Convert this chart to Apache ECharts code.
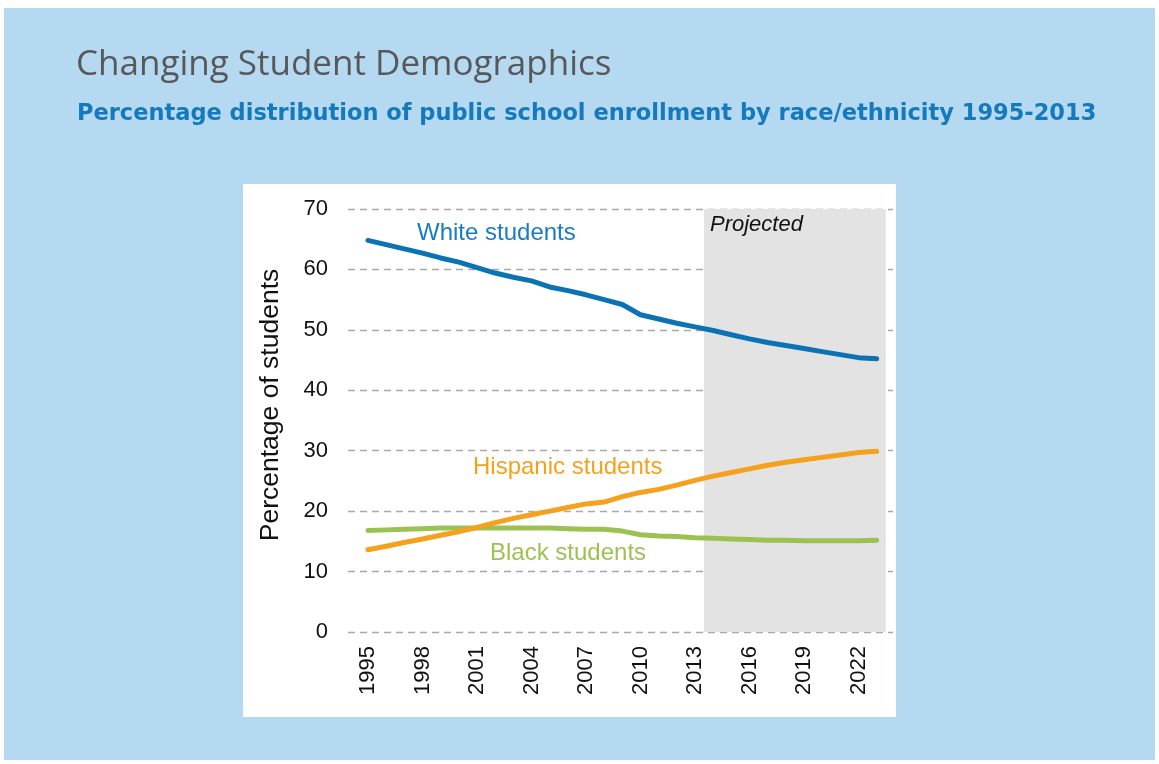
<!DOCTYPE html>
<html>
<head>
<meta charset="utf-8">
<script src="https://cdn.jsdelivr.net/npm/echarts@6/dist/echarts.min.js"></script>
<style>
  html, body { margin: 0; padding: 0; background: #ffffff; }
  #chart { width: 1159px; height: 764px; }
</style>
</head>
<body>
<div id="chart"></div>
<script>
// Years and enrollment shares (percent) by race/ethnicity; 2014 onward are projections
const years = [1995, 1996, 1997, 1998, 1999, 2000, 2001, 2002, 2003, 2004,
               2005, 2006, 2007, 2008, 2009, 2010, 2011, 2012, 2013, 2014,
               2015, 2016, 2017, 2018, 2019, 2020, 2021, 2022, 2023];
const whiteShare = [64.8, 64.1, 63.4, 62.7, 61.9, 61.2, 60.3, 59.4, 58.7, 58.1,
                    57.1, 56.5, 55.8, 55.0, 54.2, 52.5, 51.8, 51.1, 50.5, 49.9,
                    49.2, 48.5, 47.9, 47.4, 46.9, 46.4, 45.9, 45.4, 45.2];
const hispanicShare = [13.6, 14.2, 14.8, 15.4, 16.0, 16.6, 17.3, 18.1, 18.8, 19.4,
                       20.0, 20.6, 21.2, 21.5, 22.4, 23.1, 23.6, 24.3, 25.1, 25.8,
                       26.4, 27.0, 27.6, 28.1, 28.5, 28.9, 29.3, 29.7, 29.9];
const blackShare = [16.8, 16.9, 17.0, 17.1, 17.2, 17.2, 17.2, 17.2, 17.2, 17.2,
                    17.2, 17.1, 17.0, 17.0, 16.7, 16.1, 15.9, 15.8, 15.6, 15.5,
                    15.4, 15.3, 15.2, 15.2, 15.1, 15.1, 15.1, 15.1, 15.2];
const yearTicks = [1995, 1998, 2001, 2004, 2007, 2010, 2013, 2016, 2019, 2022];
const projectedRange = [2013.5, 2023.5];

const pairs = arr => years.map((y, i) => [y, arr[i]]);

const chart = echarts.init(document.getElementById('chart'), null, { renderer: 'canvas' });

const labelFont = '24px "Liberation Sans", Arial, sans-serif';

chart.setOption({
  animation: false,
  backgroundColor: '#ffffff',
  graphic: [
    { type: 'rect', z: -10, shape: { x: 4, y: 8, width: 1151, height: 752 },
      style: { fill: '#b4d9f1' } },
    { type: 'rect', z: -9, shape: { x: 243, y: 184, width: 653, height: 533 },
      style: { fill: '#ffffff' } },
    { type: 'text', z: 10, style: { x: 76, y: 65, text: 'Changing Student Demographics',
      font: '35px "Open Sans", sans-serif', fill: '#58585a', verticalAlign: 'middle' } },
    { type: 'text', z: 10, style: { x: 77, y: 114, text: 'Percentage distribution of public school enrollment by race/ethnicity 1995-2013',
      font: 'bold 22.5px "DejaVu Sans", sans-serif', fill: '#1479bd', verticalAlign: 'middle' } },
    { type: 'text', z: 10, rotation: Math.PI / 2, x: 271, y: 405,
      style: { x: 0, y: 0, text: 'Percentage of students', font: '26.5px "Liberation Sans", Arial, sans-serif',
        fill: '#111111', align: 'center', verticalAlign: 'middle' } },
    { type: 'text', z: 10, style: { x: 417, y: 233, text: 'White students', font: labelFont,
      fill: '#1a7cc0', verticalAlign: 'middle' } },
    { type: 'text', z: 10, style: { x: 473, y: 467, text: 'Hispanic students', font: labelFont,
      fill: '#f6a11e', verticalAlign: 'middle' } },
    { type: 'text', z: 10, style: { x: 490, y: 553, text: 'Black students', font: labelFont,
      fill: '#9dc155', verticalAlign: 'middle' } },
    { type: 'text', z: 10, style: { x: 710, y: 225, text: 'Projected',
      font: 'italic 22px "Liberation Sans", Arial, sans-serif', fill: '#111111', verticalAlign: 'middle' } }
  ],
  grid: { left: 348, right: 266, top: 209, bottom: 132, containLabel: false },
  xAxis: {
    type: 'value',
    min: 1993.9,
    max: 2023.9,
    axisLine: { show: false },
    axisTick: { show: false },
    splitLine: { show: false },
    axisLabel: {
      customValues: yearTicks,
      rotate: 90,
      margin: 14,
      color: '#111111',
      fontSize: 22,
      fontFamily: '"Liberation Sans", Arial, sans-serif',
      formatter: v => String(v)
    }
  },
  yAxis: {
    type: 'value',
    min: 0,
    max: 70,
    interval: 10,
    z: 1,
    axisLine: { show: false },
    axisTick: { show: false },
    axisLabel: {
      margin: 20,
      color: '#111111',
      fontSize: 22,
      fontFamily: '"Liberation Sans", Arial, sans-serif'
    },
    splitLine: { lineStyle: { color: '#a9a9a9', width: 1.3, type: [7, 5] } }
  },
  series: [
    {
      name: 'Projected',
      type: 'line',
      z: 0,
      data: [],
      silent: true,
      markArea: {
        silent: true,
        itemStyle: { color: '#e3e3e3' },
        data: [[{ xAxis: projectedRange[0], yAxis: 0 }, { xAxis: projectedRange[1], yAxis: 70 }]]
      }
    },
    {
      name: 'White students', type: 'line', z: 3, data: pairs(whiteShare),
      showSymbol: false, lineStyle: { color: '#0b72b4', width: 5, cap: 'round', join: 'round' }
    },
    {
      name: 'Black students', type: 'line', z: 3, data: pairs(blackShare),
      showSymbol: false, lineStyle: { color: '#9bc152', width: 5, cap: 'round', join: 'round' }
    },
    {
      name: 'Hispanic students', type: 'line', z: 4, data: pairs(hispanicShare),
      showSymbol: false, lineStyle: { color: '#f6a11e', width: 5, cap: 'round', join: 'round' }
    }
  ]
});
</script>
</body>
</html>
